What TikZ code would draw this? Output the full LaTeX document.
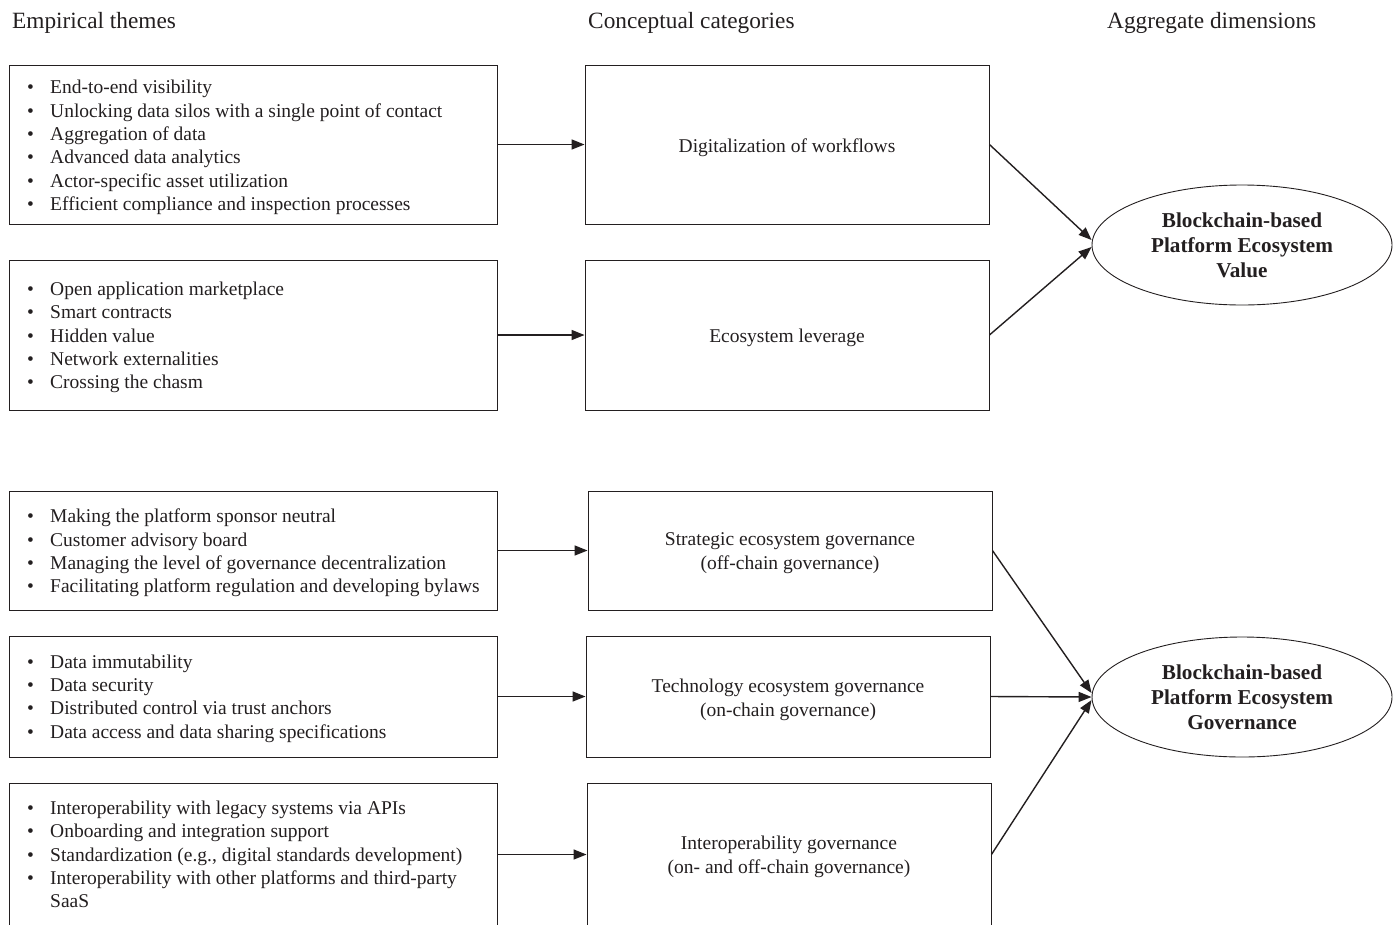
\documentclass[tikz,border=0pt]{standalone}
\usepackage{fontspec}
\setmainfont{Liberation Serif}
\usetikzlibrary{arrows.meta,shapes.geometric}
\definecolor{ink}{HTML}{231F20}
\newcommand{\bul}[1]{\makebox[23pt][l]{\textbullet}\mbox{#1}}
\newcommand{\cont}[1]{\hspace*{23pt}\mbox{#1}}
\begin{document}
\begin{tikzpicture}[x=1pt,y=-1pt,
  every node/.style={text=ink},
  themebox/.style={draw=ink,line width=0.9pt,rectangle,minimum width=488pt,inner sep=0pt},
  themetext/.style={anchor=west,inner sep=0pt,align=left,font=\fontsize{19.5}{23.4}\selectfont},
  catbox/.style={draw=ink,line width=0.9pt,rectangle,minimum width=404pt,inner sep=0pt},
  cattext/.style={inner sep=0pt,align=center,font=\fontsize{19.5}{23.8}\selectfont},
  dimell/.style={draw=ink,line width=0.9pt,ellipse,minimum width=300pt,minimum height=120pt,inner sep=0pt,align=center,font=\fontsize{21.2}{25}\selectfont\bfseries},
  header/.style={anchor=base west,inner sep=0pt,font=\fontsize{23.3}{28}\selectfont},
  arr/.style={draw=ink,line width=1.4pt,-{Triangle[length=13pt,width=10pt]}}
]
\useasboundingbox (0,0) rectangle (1399,924);

\node[header] (h1) at (12,28) {Empirical themes};
\node[header] (h2) at (588,28) {Conceptual categories};
\node[header] (h3) at (1107,28) {Aggregate dimensions};

\node[themebox,minimum height=159pt] (l1) at (253,144.5) {};
\node[themebox,minimum height=150pt] (l2) at (253,335) {};
\node[themebox,minimum height=119pt] (l3) at (253,550.5) {};
\node[themebox,minimum height=121pt] (l4) at (253,696.5) {};
\node[themebox,minimum height=143pt] (l5) at (253,854.5) {};

\node[themetext] (t1) at (27,147.5) {\bul{End-to-end visibility}\\\bul{Unlocking data silos with a single point of contact}\\\bul{Aggregation of data}\\\bul{Advanced data analytics}\\\bul{Actor-specific asset utilization}\\\bul{Efficient compliance and inspection processes}};
\node[themetext] (t2) at (27,337.5) {\bul{Open application marketplace}\\\bul{Smart contracts}\\\bul{Hidden value}\\\bul{Network externalities}\\\bul{Crossing the chasm}};
\node[themetext] (t3) at (27,553) {\bul{Making the platform sponsor neutral}\\\bul{Customer advisory board}\\\bul{Managing the level of governance decentralization}\\\bul{Facilitating platform regulation and developing bylaws}};
\node[themetext] (t4) at (27,698.5) {\bul{Data immutability}\\\bul{Data security}\\\bul{Distributed control via trust anchors}\\\bul{Data access and data sharing specifications}};
\node[themetext] (t5) at (27,854.5) {\bul{Interoperability with legacy systems via APIs}\\\bul{Onboarding and integration support}\\\bul{Standardization (e.g., digital standards development)}\\\bul{Interoperability with other platforms and third-party}\\\cont{SaaS}};

\node[catbox,minimum height=159pt] (m1) at (787,144.5) {};
\node[catbox,minimum height=150pt] (m2) at (787,335) {};
\node[catbox,minimum height=119pt] (m3) at (790,550.5) {};
\node[catbox,minimum height=121pt] (m4) at (788,696.5) {};
\node[catbox,minimum height=143pt] (m5) at (789,854.5) {};

\node[cattext] (c1) at (787,147.5) {Digitalization of workflows};
\node[cattext] (c2) at (787,338) {Ecosystem leverage};
\node[cattext] (c3) at (790,553.5) {Strategic ecosystem governance\\(off-chain governance)};
\node[cattext] (c4) at (788,699.5) {Technology ecosystem governance\\(on-chain governance)};
\node[cattext] (c5) at (789,857) {Interoperability governance\\(on- and off-chain governance)};

\node[dimell] (e1) at (1242,245) {Blockchain-based\\Platform Ecosystem\\Value};
\node[dimell] (e2) at (1242,697) {Blockchain-based\\Platform Ecosystem\\Governance};

\draw[arr] (l1.east) -- (m1.west);
\draw[arr] (l2.east) -- (m2.west);
\draw[arr] (l3.east) -- (m3.west);
\draw[arr] (l4.east) -- (m4.west);
\draw[arr] (l5.east) -- (m5.west);

\draw[arr] (m1.east) -- ([yshift=5pt]e1.west);
\draw[arr] (m2.east) -- ([yshift=-2pt]e1.west);
\draw[arr] (m3.east) -- ([yshift=4pt]e2.west);
\draw[arr] (m4.east) -- (e2.west);
\draw[arr] (m5.east) -- ([yshift=-3pt]e2.west);
\end{tikzpicture}
\end{document}
